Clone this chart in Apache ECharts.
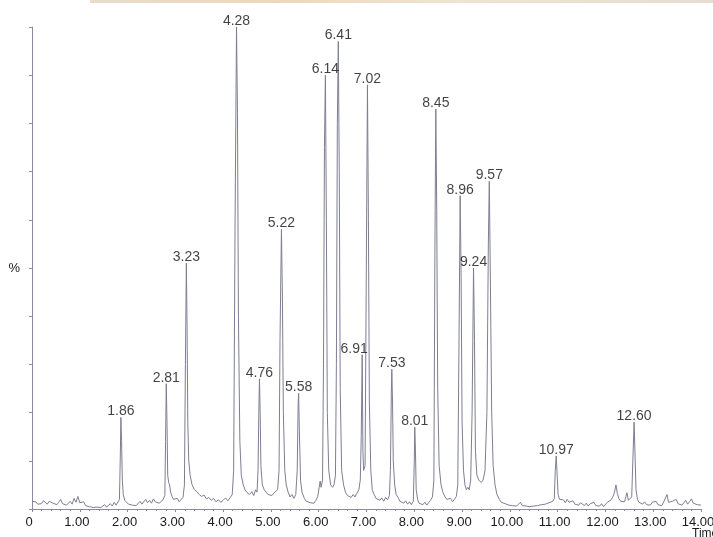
<!DOCTYPE html>
<html>
<head>
<meta charset="utf-8">
<script src="https://cdn.jsdelivr.net/npm/echarts@6/dist/echarts.min.js"></script>
<style>html,body{margin:0;padding:0;background:#fff;}#c{width:713px;height:537px;}</style>
</head>
<body>
<div id="c"></div>
<script>
// Chromatogram trace: [time (min), intensity (%)]
var trace = [
[0.00,1.6],[0.04,1.2],[0.08,1.5],[0.12,1.0],[0.16,1.4],[0.20,1.1],[0.24,1.7],[0.28,1.3],[0.32,1.0],[0.36,1.6],
[0.40,1.9],[0.44,1.2],[0.48,1.5],[0.52,0.9],[0.56,1.4],[0.60,2.0],[0.64,1.1],[0.68,1.3],[0.72,0.8],[0.76,1.2],
[0.80,1.6],[0.84,1.0],[0.88,2.2],[0.92,1.4],[0.96,2.6],[1.00,1.3],[1.04,1.0],[1.08,1.5],[1.12,0.7],[1.16,0.9],
[1.20,0.5],[1.24,0.8],[1.28,0.3],[1.32,0.6],[1.36,0.4],[1.40,0.7],[1.44,0.3],[1.48,0.6],[1.52,0.9],[1.56,0.4],
[1.60,0.7],[1.64,1.1],[1.68,0.6],[1.72,1.4],[1.76,0.8],[1.80,1.0],[1.83,2.0],[1.85,12],[1.86,19],[1.875,14],
[1.89,6],[1.91,3],[1.94,1.8],[1.98,1.5],[2.02,1.0],[2.06,1.4],[2.10,0.8],[2.14,1.2],[2.18,0.7],[2.22,1.1],
[2.26,1.6],[2.30,1.0],[2.34,1.4],[2.38,2.0],[2.42,1.3],[2.46,1.8],[2.50,1.2],[2.54,2.1],[2.58,1.5],[2.62,1.9],
[2.66,1.2],[2.70,1.6],[2.74,1.9],[2.78,2.8],[2.795,14],[2.81,26],[2.825,18],[2.84,7],[2.86,5.5],[2.88,5.0],
[2.90,3.5],[2.93,2.6],[2.96,2.0],[3.00,1.6],[3.04,2.2],[3.08,1.5],[3.12,1.8],[3.16,2.4],[3.19,5],[3.21,30],
[3.23,51],[3.245,38],[3.26,18],[3.28,10],[3.31,7],[3.35,5],[3.40,4],[3.45,3.6],[3.50,3.0],[3.55,2.6],
[3.60,2.9],[3.65,2.1],[3.70,2.4],[3.75,1.8],[3.80,2.2],[3.85,1.5],[3.90,1.9],[3.95,1.4],[4.00,1.8],[4.05,2.3],
[4.10,1.7],[4.15,2.4],[4.19,3.0],[4.22,8],[4.25,60],[4.28,100],[4.30,82],[4.32,40],[4.35,14],[4.38,7],
[4.42,5],[4.46,4],[4.50,3.4],[4.55,3.0],[4.60,3.6],[4.64,2.8],[4.68,4.0],[4.71,3.5],[4.73,8],[4.75,22],
[4.76,27],[4.775,20],[4.79,9],[4.82,5],[4.86,4],[4.90,3.5],[4.94,3.0],[4.98,3.2],[5.02,2.8],[5.06,3.3],
[5.10,3.5],[5.14,4.0],[5.17,8],[5.19,35],[5.22,58],[5.24,44],[5.26,20],[5.29,8],[5.32,5],[5.36,3.5],
[5.40,2.5],[5.44,3.0],[5.48,2.2],[5.52,3.0],[5.55,8],[5.57,22],[5.58,24],[5.595,16],[5.62,6],[5.65,3.5],
[5.70,2.2],[5.74,1.6],[5.78,2.0],[5.82,1.3],[5.86,1.6],[5.90,1.2],[5.94,1.8],[5.98,2.6],[6.01,4.5],[6.03,5.8],
[6.05,4.5],[6.08,6],[6.10,30],[6.12,75],[6.14,90],[6.16,60],[6.18,20],[6.21,8],[6.25,5],[6.29,4.5],
[6.32,5],[6.35,7],[6.37,30],[6.39,80],[6.41,97],[6.43,70],[6.45,25],[6.48,8],[6.52,5],[6.56,3.5],
[6.60,2.8],[6.64,3.2],[6.68,2.4],[6.72,3.0],[6.76,2.5],[6.80,3.3],[6.84,4.0],[6.87,6],[6.89,15],[6.91,32],
[6.925,12],[6.94,8],[6.97,9],[6.99,40],[7.02,88],[7.04,60],[7.06,22],[7.09,8],[7.12,4],[7.16,3],
[7.20,2.2],[7.24,2.6],[7.28,1.8],[7.32,2.3],[7.36,1.6],[7.40,2.4],[7.44,1.9],[7.48,2.8],[7.50,8],[7.52,24],
[7.53,29],[7.545,22],[7.56,10],[7.59,5],[7.62,3],[7.66,2.4],[7.70,1.6],[7.74,2.0],[7.78,1.2],[7.82,1.7],
[7.86,1.0],[7.90,1.5],[7.94,0.9],[7.98,1.6],[8.00,10],[8.01,17],[8.025,12],[8.04,4],[8.07,2],[8.10,1.2],
[8.14,1.6],[8.18,0.9],[8.22,1.4],[8.26,0.8],[8.30,1.3],[8.34,1.8],[8.38,2.5],[8.41,6],[8.43,50],[8.45,83],
[8.47,62],[8.49,25],[8.52,9],[8.56,5],[8.60,3.4],[8.64,2.6],[8.68,2.0],[8.72,1.6],[8.76,2.2],[8.80,1.5],
[8.84,2.0],[8.88,2.6],[8.91,5],[8.94,40],[8.96,65],[8.98,48],[9.00,18],[9.03,8],[9.06,5],[9.09,4],
[9.12,4.5],[9.15,4],[9.18,6],[9.21,20],[9.24,50],[9.26,35],[9.28,12],[9.31,7],[9.35,6],[9.40,5.5],
[9.44,6],[9.48,8],[9.52,20],[9.55,55],[9.57,68],[9.59,50],[9.62,20],[9.65,9],[9.69,5],[9.73,3],
[9.78,2.0],[9.82,1.4],[9.86,1.8],[9.90,1.1],[9.94,1.5],[9.98,0.8],[10.02,1.2],[10.06,0.7],[10.10,1.1],[10.14,0.6],
[10.18,1.0],[10.22,1.4],[10.26,0.7],[10.30,1.0],[10.34,0.6],[10.38,0.9],[10.42,0.5],[10.46,0.8],[10.50,0.6],[10.54,1.0],
[10.58,0.7],[10.62,0.5],[10.66,0.9],[10.70,0.6],[10.74,1.0],[10.78,0.8],[10.82,1.3],[10.86,0.9],[10.90,1.6],[10.93,2.2],
[10.95,8],[10.97,11],[10.99,7],[11.01,3],[11.04,2.0],[11.08,1.6],[11.12,1.9],[11.16,1.3],[11.20,2.0],[11.24,1.4],
[11.28,1.1],[11.32,1.7],[11.36,1.0],[11.40,1.4],[11.44,0.8],[11.48,1.3],[11.52,1.0],[11.56,0.7],[11.60,1.2],[11.64,0.6],
[11.68,1.1],[11.72,0.8],[11.76,1.4],[11.80,0.7],[11.84,1.0],[11.88,0.6],[11.92,1.1],[11.96,0.5],[12.00,0.9],[12.04,1.4],
[12.08,1.0],[12.12,1.9],[12.16,2.6],[12.19,3.5],[12.22,5.0],[12.25,3.2],[12.28,2.2],[12.32,1.6],[12.36,2.0],[12.40,1.5],
[12.43,2.6],[12.45,3.4],[12.48,1.8],[12.52,1.4],[12.55,2.5],[12.58,12],[12.60,18],[12.62,11],[12.64,4],[12.67,2.0],
[12.70,1.4],[12.74,1.8],[12.78,1.0],[12.82,1.5],[12.86,0.9],[12.90,1.3],[12.94,0.8],[12.98,1.4],[13.02,1.0],[13.06,1.6],
[13.10,0.9],[13.14,1.2],[13.18,0.7],[13.22,1.5],[13.26,1.8],[13.29,3.0],[13.32,1.4],[13.36,1.0],[13.40,1.6],[13.44,1.2],
[13.48,2.0],[13.52,1.1],[13.56,1.5],[13.60,0.8],[13.64,1.3],[13.68,1.8],[13.72,1.0],[13.76,1.5],[13.80,2.1],[13.84,1.2],
[13.88,1.6],[13.92,0.9],[13.96,1.3],[14.00,0.8]
];

// Labelled peaks: retention time and apex intensity (%)
var peakTimes   = [1.86, 2.81, 3.23, 4.28, 4.76, 5.22, 5.58, 6.14, 6.41, 6.91, 7.02, 7.53, 8.01, 8.45, 8.96, 9.24, 9.57, 10.97, 12.60];
var peakHeights = [19,   26,   51,   100,  27,   58,   24,   90,   97,   32,   88,   29,   17,   83,   65,   50,   68,   11,    18];

// Axis ticks and titles
var xTicks = [0, 1, 2, 3, 4, 5, 6, 7, 8, 9, 10, 11, 12, 13, 14];
var yLabelAt = 50;
var xTitle = 'Time';
var yTitle = '%';

var chart = echarts.init(document.getElementById('c'), null, {renderer: 'canvas'});

var nudge = {'6.91': [-8, 0]};
var peakData = peakTimes.map(function (t, i) {
  var txt = t.toFixed(2);
  return {value: [t, peakHeights[i]], name: txt,
    label: {offset: nudge[txt] || [0, 0]}};
});

var axisCol = '#8a8aa0';
var font = 'Liberation Sans, Arial, sans-serif';

chart.setOption({
  animation: false,
  backgroundColor: '#ffffff',
  grid: {left: 32, right: 12, top: 27, bottom: 28, containLabel: false, outerBoundsMode: 'none'},
  xAxis: {
    type: 'value', min: xTicks[0], max: xTicks[xTicks.length - 1], interval: 1,
    axisLine: {show: true, onZero: false, lineStyle: {color: axisCol, width: 1}},
    axisTick: {show: true, length: 3, lineStyle: {color: axisCol}},
    minorTick: {show: true, splitNumber: 5, length: 2, lineStyle: {color: axisCol}},
    splitLine: {show: false},
    axisLabel: {
      show: true, margin: 7, fontFamily: font, fontSize: 13, color: '#1a1a1a',
      padding: [0, 6, 0, 0],
      formatter: function (v) { return v === 0 ? '0' : v.toFixed(2); }
    }
  },
  yAxis: {
    type: 'value', min: 0, max: 100, interval: 10,
    axisLine: {show: true, lineStyle: {color: axisCol, width: 1}},
    axisTick: {show: true, length: 3, lineStyle: {color: axisCol}},
    splitLine: {show: false},
    axisLabel: {
      show: true, margin: 12, fontFamily: font, fontSize: 13, color: '#1a1a1a',
      formatter: function (v) { return v === yLabelAt ? yTitle : ''; }
    }
  },
  series: [
    {
      type: 'line', data: trace, symbol: 'none', smooth: false,
      lineStyle: {color: '#7e7e92', width: 1},
      z: 2
    },
    {
      type: 'scatter', data: peakData, symbolSize: 0, silent: true,
      label: {show: true, position: 'top', distance: -1, fontFamily: font, fontSize: 14, color: '#111',
        formatter: function (p) { return p.name; }},
      z: 3
    }
  ],
  graphic: [
    {type: 'rect', shape: {x: 90, y: 0, width: 623, height: 3}, silent: true,
     style: {fill: new echarts.graphic.LinearGradient(0, 0, 1, 0, [
       {offset: 0, color: '#e8dccb'}, {offset: 0.3, color: '#ecd9bd'}, {offset: 0.6, color: '#efe4d2'}, {offset: 1, color: '#e6ddd0'}])}},
    {type: 'text', left: 692, top: 528, silent: true,
     style: {text: xTitle, fontFamily: font, fontSize: 12, fill: '#1a1a1a'}}
  ]
});
</script>
</body>
</html>
